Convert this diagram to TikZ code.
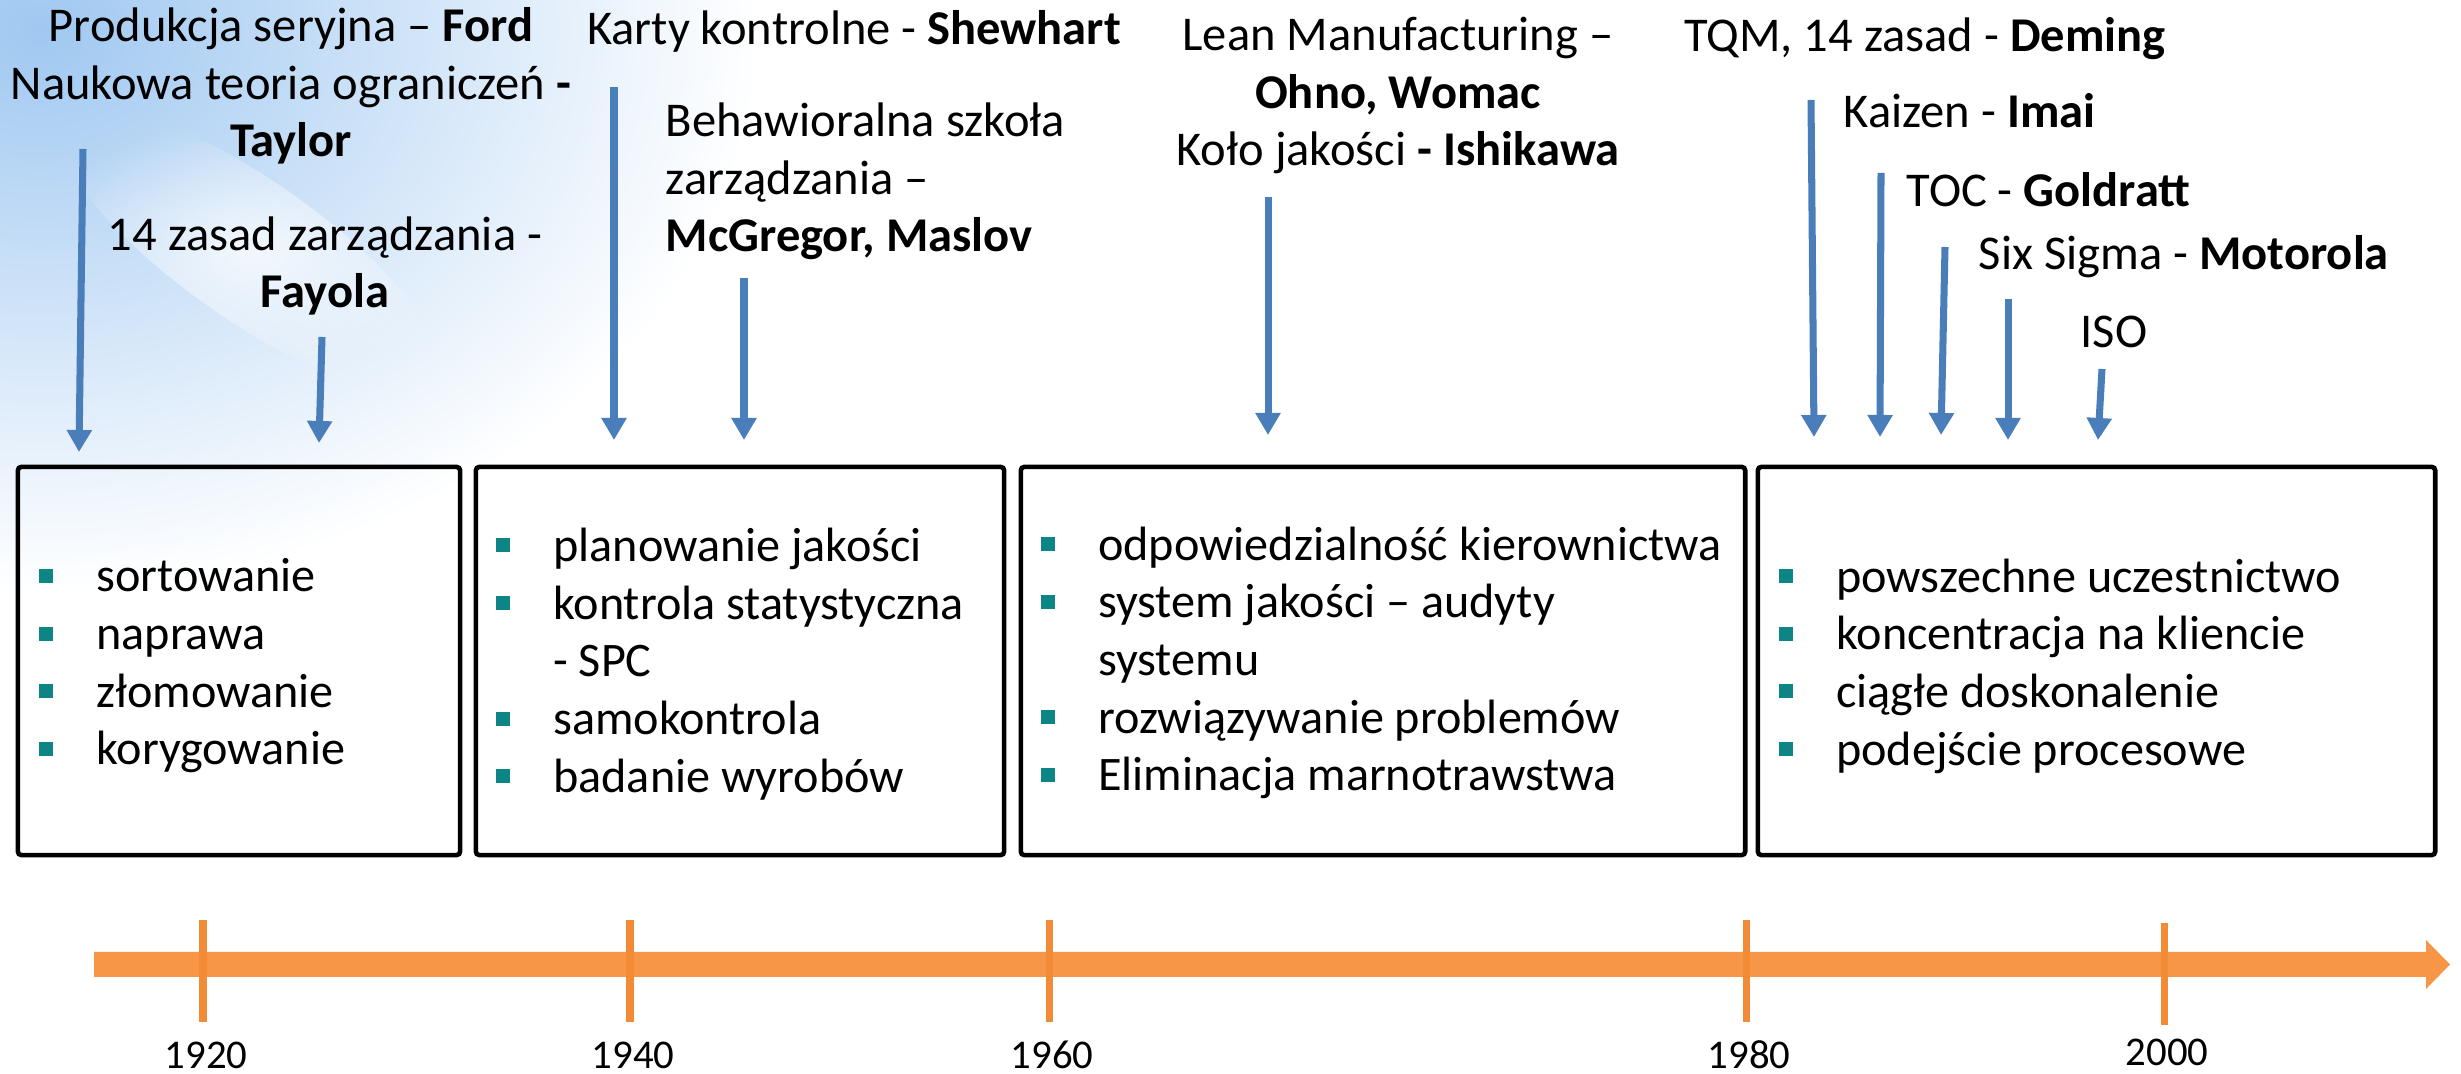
\documentclass[tikz,border=0pt]{standalone}
\usepackage{fontspec}
\setmainfont{Carlito}
\usetikzlibrary{arrows.meta,positioning,fadings}
\definecolor{skyblue}{HTML}{A0C8F1}
\definecolor{eventblue}{HTML}{4A7EBB}
\definecolor{axisorange}{HTML}{F79646}
\definecolor{tickorange}{HTML}{F28A36}
\definecolor{bullteal}{HTML}{0E8585}
\tikzfading[name=cloudfade, inner color=transparent!0, outer color=transparent!100]
\newcommand{\itm}{\makebox[0.57cm][l]{\textcolor{bullteal}{\rule[0.09cm]{0.14cm}{0.14cm}}}}
\newcommand{\cnt}{\makebox[0.57cm][l]{}}

\begin{document}
\begin{tikzpicture}[
  x=0.01cm, y=-0.01cm,
  headline/.style={font=\fontsize{13.8}{16.4}\selectfont,align=center,inner sep=0pt,anchor=base},
  itemlist/.style={font=\fontsize{13.7}{16.4}\selectfont,align=left,inner sep=0pt,anchor=west},
  era/.style={draw,line width=1.3pt,rounded corners=1pt,minimum height=3.88cm,inner sep=0pt},
  event/.style={eventblue,line width=2pt,-{Triangle[width=2.4mm,length=2.2mm]}},
  year/.style={font=\fontsize{11.6}{13}\selectfont,inner sep=0pt,anchor=base},
  yeartick/.style={tickorange,line width=2pt}
]
\useasboundingbox (0,0) rectangle (2461,1074);
\fill[white] (0,0) rectangle (2461,1074);
% sky in the corner
\begin{scope}
\clip (0,0) rectangle (2461,1074);
\shade[inner color=skyblue,outer color=white] (40,30) ellipse (720 and 560);
\fill[white,path fading=cloudfade,opacity=.75,rotate around={-35:(250,250)}] (250,250) ellipse (230 and 70);
\end{scope}

% periods
\node[era,minimum width=4.42cm] (era1) at (239,661) {};
\node[era,minimum width=5.28cm] (era2) at (740,661) {};
\node[era,minimum width=7.24cm] (era3) at (1383,661) {};
\node[era,minimum width=6.77cm] (era4) at (2096.5,661) {};

\node[itemlist,right=0.23cm of era1.west,yshift=-0.05cm] (list1) {\itm sortowanie\\\itm naprawa\\\itm złomowanie\\\itm korygowanie};
\node[itemlist,right=0.22cm of era2.west,yshift=-0.03cm] (list2) {\itm planowanie jakości\\\itm kontrola statystyczna\\\cnt - SPC\\\itm samokontrola\\\itm badanie wyrobów};
\node[itemlist,right=0.22cm of era3.west,yshift=-0.02cm] (list3) {\itm odpowiedzialność kierownictwa\\\itm system jakości – audyty\\\cnt systemu\\\itm rozwiązywanie problemów\\\itm Eliminacja marnotrawstwa};
\node[itemlist,right=0.23cm of era4.west,yshift=-0.05cm] (list4) {\itm powszechne uczestnictwo\\\itm koncentracja na kliencie\\\itm ciągłe doskonalenie\\\itm podejście procesowe};

% people and methods
\node[headline] (ford) at (291,157) {Produkcja seryjna – \textbf{Ford}\\Naukowa teoria ograniczeń \textbf{-}\\\textbf{Taylor}};
\node[headline] (fayol) at (325,308) {14 zasad zarządzania -\\\textbf{Fayola}};
\node[headline] (shewhart) at (854,45) {Karty kontrolne - \textbf{Shewhart}};
\node[headline,align=left,anchor=base west] (maslov) at (665,252) {Behawioralna szkoła\\zarządzania –\\\textbf{McGregor, Maslov}};
\node[headline] (lean) at (1398,166) {Lean Manufacturing –\\\textbf{Ohno, Womac}\\Koło jakości \textbf{- Ishikawa}};
\node[headline] (deming) at (1925,52) {TQM, 14 zasad - \textbf{Deming}};
\node[headline,anchor=base west] (imai) at (1843,128) {Kaizen - \textbf{Imai}};
\node[headline,anchor=base west] (goldratt) at (1906,207) {TOC - \textbf{Goldratt}};
\node[headline,anchor=base west] (motorola) at (1978,270) {Six Sigma - \textbf{Motorola}};
\node[headline,anchor=base west] (iso) at (2080,348) {ISO};

\coordinate (taylorS) at (83,149);    \coordinate (taylorE) at (79,452);
\coordinate (fayolS) at (322,337);    \coordinate (fayolE) at (319,443);
\coordinate (shewhartS) at (614,87);  \coordinate (shewhartE) at (614,440);
\coordinate (maslovS) at (744,278);   \coordinate (maslovE) at (744,440);
\coordinate (leanS) at (1268,197);    \coordinate (leanE) at (1268,435);
\coordinate (demingS) at (1811,100);  \coordinate (demingE) at (1814,437);
\coordinate (imaiS) at (1881,173);    \coordinate (imaiE) at (1880,437);
\coordinate (goldrattS) at (1945,247); \coordinate (goldrattE) at (1941,435);
\coordinate (motorolaS) at (2008,299); \coordinate (motorolaE) at (2008,440);
\coordinate (isoS) at (2102,369);     \coordinate (isoE) at (2098,440);
\draw[event] (taylorS)--(taylorE);
\draw[event] (fayolS)--(fayolE);
\draw[event] (shewhartS)--(shewhartE);
\draw[event] (maslovS)--(maslovE);
\draw[event] (leanS)--(leanE);
\draw[event] (demingS)--(demingE);
\draw[event] (imaiS)--(imaiE);
\draw[event] (goldrattS)--(goldrattE);
\draw[event] (motorolaS)--(motorolaE);
\draw[event] (isoS)--(isoE);

% time axis
\fill[axisorange] (94,952)--(2426,952)--(2426,940)--(2450,964.5)--(2426,989)--(2426,977)--(94,977)--cycle;
\foreach \yr/\px/\dy in {1920/203/0,1940/630/0,1960/1049/0,1980/1746/0,2000/2164/3}{
  \draw[yeartick] (\px,920+\dy)--(\px,1022+\dy);
  \node[year] (y\yr) at (\px+3,1068-\dy) {\yr};
}
\end{tikzpicture}
\end{document}
